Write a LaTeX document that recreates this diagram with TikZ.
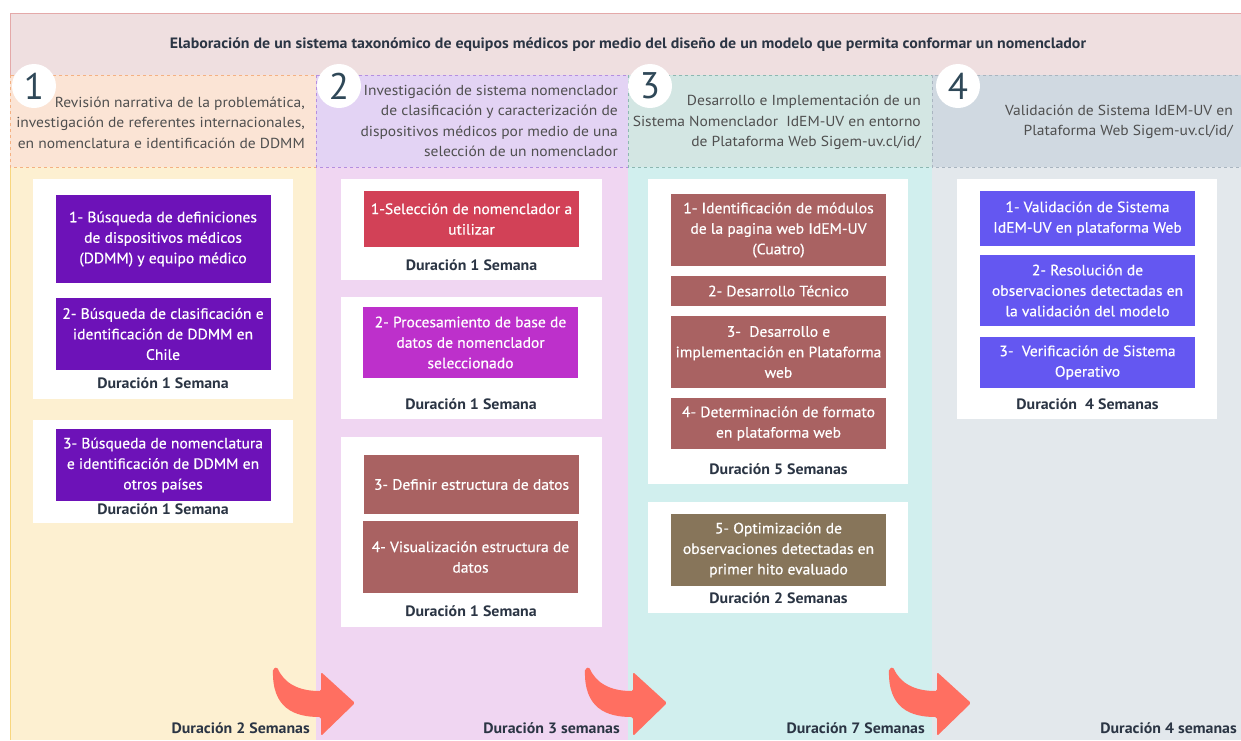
\documentclass[tikz,border=0pt]{standalone}
\usepackage{fontspec}
\setmainfont{PT Sans}
\newfontfamily\hdrfont{PT Sans}[FakeStretch=1.07]
\newfontfamily\taskfont{PT Sans}[FakeStretch=1.04,FakeBold=0.5]
\newfontfamily\boldfont{PT Sans Bold}[FakeStretch=1.06]
\definecolor{bannerfill}{HTML}{EFDFE0}
\definecolor{bannerline}{HTML}{E4A9A9}
\definecolor{h1fill}{HTML}{FBE4D5}
\definecolor{h1line}{HTML}{F4B183}
\definecolor{b1fill}{HTML}{FDF0D1}
\definecolor{b1line}{HTML}{F8D67E}
\definecolor{h2fill}{HTML}{E3D3F4}
\definecolor{h2line}{HTML}{B58FE0}
\definecolor{b2fill}{HTML}{F0D6F2}
\definecolor{h3fill}{HTML}{D3E6E3}
\definecolor{h3line}{HTML}{8DB7B1}
\definecolor{b3fill}{HTML}{D1EFEE}
\definecolor{h4fill}{HTML}{D0D9E1}
\definecolor{h4line}{HTML}{A9B5C0}
\definecolor{b4fill}{HTML}{E3E8EC}
\definecolor{hdrgray}{HTML}{4F4F4F}
\definecolor{numc}{HTML}{2F4858}
\definecolor{durc}{HTML}{2B3544}
\definecolor{cpurple}{HTML}{6D12B8}
\definecolor{cred}{HTML}{D24157}
\definecolor{cmagenta}{HTML}{BD30CB}
\definecolor{cbrown}{HTML}{A96262}
\definecolor{colive}{HTML}{87755A}
\definecolor{cviolet}{HTML}{6457F1}
\definecolor{arrowc}{HTML}{FF6F61}
\begin{document}
\begin{tikzpicture}[x=1pt,y=-1pt,
  hdr/.style={anchor=east,align=right,text=hdrgray,font=\hdrfont\fontsize{14.5}{20.5}\selectfont,inner sep=0},
  task/.style={minimum width=215pt,inner sep=0,align=center,text=white,font=\taskfont\fontsize{15}{20.5}\selectfont},
  dur/.style={font=\boldfont\fontsize{15}{16}\selectfont,text=durc,inner sep=0},
  num/.style={circle,fill=white,minimum size=44pt,inner sep=0,text=numc,font=\fontsize{37}{37}\selectfont},
  flow/.style={fill=arrowc,rounded corners=1.5pt}
]
\useasboundingbox (0,0) rectangle (1241,740);
\clip (0,0) rectangle (1241,740);
\fill[white] (0,0) rectangle (1241,740);
% banner
\fill[bannerfill] (10,13) rectangle (1250,75);
\draw[bannerline] (1250,13) -- (10,13) -- (10,75);
\node[font=\boldfont\fontsize{15}{16}\selectfont,text=durc,inner sep=0] (title) at (628,45)
  {Elaboración de un sistema taxonómico de equipos médicos por medio del diseño de un modelo que permita conformar un nomenclador};
% column bodies
\fill[b1fill] (10,167) rectangle (316,740);
\draw[b1line] (10,167) -- (10,740) (316,167) -- (316,740);
\fill[b2fill] (316,167) rectangle (628,740);
\draw[h2line,dashed] (628,167) -- (628,740);
\fill[b3fill] (628,167) rectangle (932,740);
\draw[h3line,dashed] (932,167) -- (932,740);
\fill[b4fill] (932,167) rectangle (1241,740);
% column headers
\fill[h1fill] (10,75) rectangle (316,167);
\draw[h1line,dashed] (10,75) rectangle (316,167);
\fill[h2fill] (316,75) rectangle (628,167);
\draw[h2line,dashed] (316,75) rectangle (628,167);
\fill[h3fill] (628,75) rectangle (932,167);
\draw[h3line,dashed] (628,75) rectangle (932,167);
\fill[h4fill] (932,75) rectangle (1250,167);
\draw[h4line,dashed] (1250,75) -- (932,75) -- (932,167) -- (1250,167);
% numbers
\node[num] (n1) at (34,86) {1};
\node[num] (n2) at (339,86) {2};
\node[num] (n3) at (650,86) {3};
\node[num] (n4) at (958,86) {4};
% header texts
\node[hdr] (h1) at (305,122.5) {Revisión narrativa de la problemática,\\investigación de referentes internacionales,\\en nomenclatura e identificación de DDMM};
\node[hdr] (h2) at (618,121) {Investigación de sistema nomenclador\\de clasificación y caracterización de\\dispositivos médicos por medio de una\\selección de un nomenclador};
\node[hdr] (h3) at (921,122.5) {Desarrollo e Implementación de un\\Sistema Nomenclador\ \ IdEM-UV en entorno\\de Plataforma Web Sigem-uv.cl/id/};
\node[hdr] (h4) at (1233,122) {Validación de Sistema IdEM-UV en\\Plataforma Web Sigem-uv.cl/id/};
% cards
\fill[white] (33,179) rectangle (293,399);
\fill[white] (33,420) rectangle (293,523);
\fill[white] (341,179) rectangle (602,280);
\fill[white] (341,297) rectangle (602,419);
\fill[white] (341,437) rectangle (602,627);
\fill[white] (648,179) rectangle (908,484);
\fill[white] (648,502) rectangle (908,613);
\fill[white] (957,179) rectangle (1217,419);
% column 1 tasks
\node[task,fill=cpurple,minimum height=88pt] (t11) at (163,239) {1- Búsqueda de definiciones\\de dispositivos médicos\\(DDMM) y equipo médico};
\node[task,fill=cpurple,minimum height=72pt] (t12) at (163,334) {2- Búsqueda de clasificación e\\identificación de DDMM en\\Chile};
\node[dur] (d11) at (163,383) {Duración 1 Semana};
\node[task,fill=cpurple,minimum height=72pt] (t13) at (163,465) {3- Búsqueda de nomenclatura\\e identificación de DDMM en\\otros países};
\node[dur] (d12) at (163,509) {Duración 1 Semana};
% column 2 tasks
\node[task,fill=cred,minimum height=56pt] (t21) at (471.5,219) {1-Selección de nomenclador a\\utilizar};
\node[dur] (d21) at (471.5,265) {Duración 1 Semana};
\node[task,fill=cmagenta,minimum height=71pt] (t22) at (470.5,342.5) {2- Procesamiento de base de\\datos de nomenclador\\seleccionado};
\node[dur] (d22) at (471,404) {Duración 1 Semana};
\node[task,fill=cbrown,minimum height=59pt] (t23) at (471.5,484.5) {3- Definir estructura de datos};
\node[task,fill=cbrown,minimum height=72pt] (t24) at (470.5,557) {4- Visualización estructura de\\datos};
\node[dur] (d23) at (471,611) {Duración 1 Semana};
% column 3 tasks
\node[task,fill=cbrown,minimum height=72pt] (t31) at (778.5,230) {1- Identificación de módulos\\de la pagina web IdEM-UV\\(Cuatro)};
\node[task,fill=cbrown,minimum height=30pt] (t32) at (778.5,291) {2- Desarrollo Técnico};
\node[task,fill=cbrown,minimum height=72pt] (t33) at (778.5,352) {3-\ \ Desarrollo e\\implementación en Plataforma\\web};
\node[task,fill=cbrown,minimum height=51pt] (t34) at (778.5,423.5) {4- Determinación de formato\\en plataforma web};
\node[dur] (d31) at (778.5,469) {Duración 5 Semanas};
\node[task,fill=colive,minimum height=72pt] (t35) at (778.5,550) {5- Optimización de\\observaciones detectadas en\\primer hito evaluado};
\node[dur] (d32) at (778.5,598) {Duración 2 Semanas};
% column 4 tasks
\node[task,fill=cviolet,minimum height=55pt] (t41) at (1087.5,218.5) {1- Validación de Sistema\\IdEM-UV en plataforma Web};
\node[task,fill=cviolet,minimum height=71pt] (t42) at (1087.5,290.5) {2- Resolución de\\observaciones detectadas en\\la validación del modelo};
\node[task,fill=cviolet,minimum height=51pt] (t43) at (1087.5,362.5) {3-\ \ Verificación de Sistema\\Operativo};
\node[dur] (d41) at (1087.5,404) {Duración\ \ 4 Semanas};
% bottom durations
\node[dur,anchor=base east] (f1) at (310,733) {Duración 2 Semanas};
\node[dur,anchor=base east] (f2) at (620,733) {Duración 3 semanas};
\node[dur,anchor=base east] (f3) at (925,733) {Duración 7 Semanas};
\node[dur,anchor=base east] (f4) at (1237,733) {Duración 4 semanas};
% arrows
\foreach \B in {316,628,932}{
  \fill[flow] (\B-43,669) .. controls (\B-44,708) and (\B-22,717) .. (\B+5,717)
    -- (\B+5,736) -- (\B+39,703) -- (\B+5,672) -- (\B+5,691)
    .. controls (\B-18,691) and (\B-32,683) .. (\B-39,667) -- cycle;
}
\end{tikzpicture}
\end{document}
